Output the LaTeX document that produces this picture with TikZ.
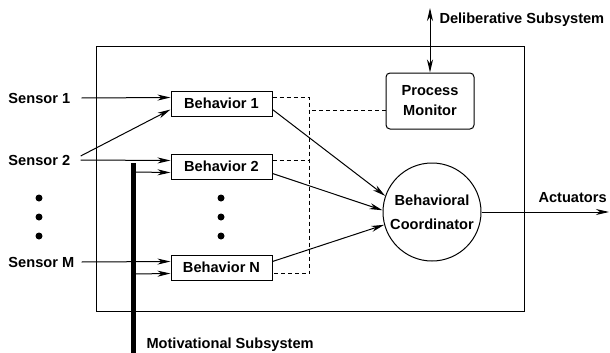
\documentclass[tikz,border=0pt]{standalone}
\usepackage{fontspec}
\setmainfont{Liberation Sans}
\usetikzlibrary{arrows.meta,calc}

\begin{document}
\begin{tikzpicture}[
        x = 1pt, y = -1pt, line width = 1pt,
        font = \fontsize{14.6}{20}\selectfont\bfseries,
        >= {Stealth[length = 13pt, width = 6pt, inset = 4pt]},
        beh/.style = {
          rectangle, draw = black, inner sep = 0pt,
          minimum height = 25pt, minimum width = 101pt,
        },
        lbl/.style = {inner sep = 0pt, anchor = west},
        blob/.style = {circle, fill = black, inner sep = 0pt, minimum size = 7pt},
        dsh/.style = {line width = .9pt, dash pattern = on 4pt off 3pt}
      ]

      \useasboundingbox (0,0) rectangle (610,353);
      \draw (96,47) rectangle (524,311);

      \node[beh] (B1) at (221.5,103.5) {Behavior 1};
      \node[beh] (B2) at (221.5,166.5) {Behavior 2};
      \node[beh] (BN) at (221.5,267.5) {Behavior N};

      \node[draw, rounded corners = 4pt, minimum width = 88pt, minimum height = 56pt,
        align = center, inner sep = 0pt] (PM) at (430,101) {Process\\Monitor};
      \node[draw, circle, minimum size = 98pt, align = center, inner sep = 0pt]
        (C) at (432,212) {Behavioral\\[4pt]Coordinator};

      \node[lbl] (S1) at (8,98) {Sensor 1};
      \node[lbl] (S2) at (8,160) {Sensor 2};
      \node[lbl] (SM) at (8,262) {Sensor M};

      \foreach \y in {198,217,236} {
        \node[blob] at (39,\y) {};
        \node[blob] at (221,\y) {};
      }

      % sensors
      \draw[->] ($(S1.east)+(11,0)$) to ($(B1.west)+(0,-6)$);
      \draw[->] ($(S2.east)+(10,-4)$) to ($(B1.west)+(0,6)$);
      \draw[->] ($(S2.east)+(10,0)$) to ($(B2.west)+(0,-6)$);
      \draw[->] ($(SM.east)+(7,0)$) to ($(BN.west)+(0,-6)$);

      % motivational subsystem
      \coordinate (M0) at (133,163);
      \coordinate (M1) at (133,353);
      \draw[line width = 5pt] (M0) to (M1);
      \draw[->] (M0 |- 0,172) to ($(B2.west)+(0,6)$);
      \draw[->] (M0 |- 0,274) to ($(BN.west)+(0,6)$);
      \node[lbl] (MS) at (146,345) {Motivational Subsystem};

      % to coordinator
      \draw[->] ($(B1.east)+(0,6)$) to (C.161);
      \draw[->] ($(B2.east)+(0,7)$) to (C.178);
      \draw[->] ($(BN.east)+(0,-6)$) to (C.195);

      \draw[dsh] ($(B1.east)+(0,-6)$) to ++(37,0) |- ($(BN.east)+(0,6)$);
      \draw[dsh] ($(B2.east)+(0,-6)$) to ++(37,0);
      \draw[dsh] ($(PM.west)+(0,9)$) to ++(-77,0);

      % deliberative subsystem
      \coordinate (D) at (430,8);
      \draw[<->] (D) to (PM.north);
      \node[lbl] (DS) at (439,20) {Deliberative Subsystem};

      \coordinate (A) at (609,212);
      \draw[->] (C.east) to (A);
      \node[lbl] (AC) at (538,198) {Actuators};
    \end{tikzpicture}
\end{document}
